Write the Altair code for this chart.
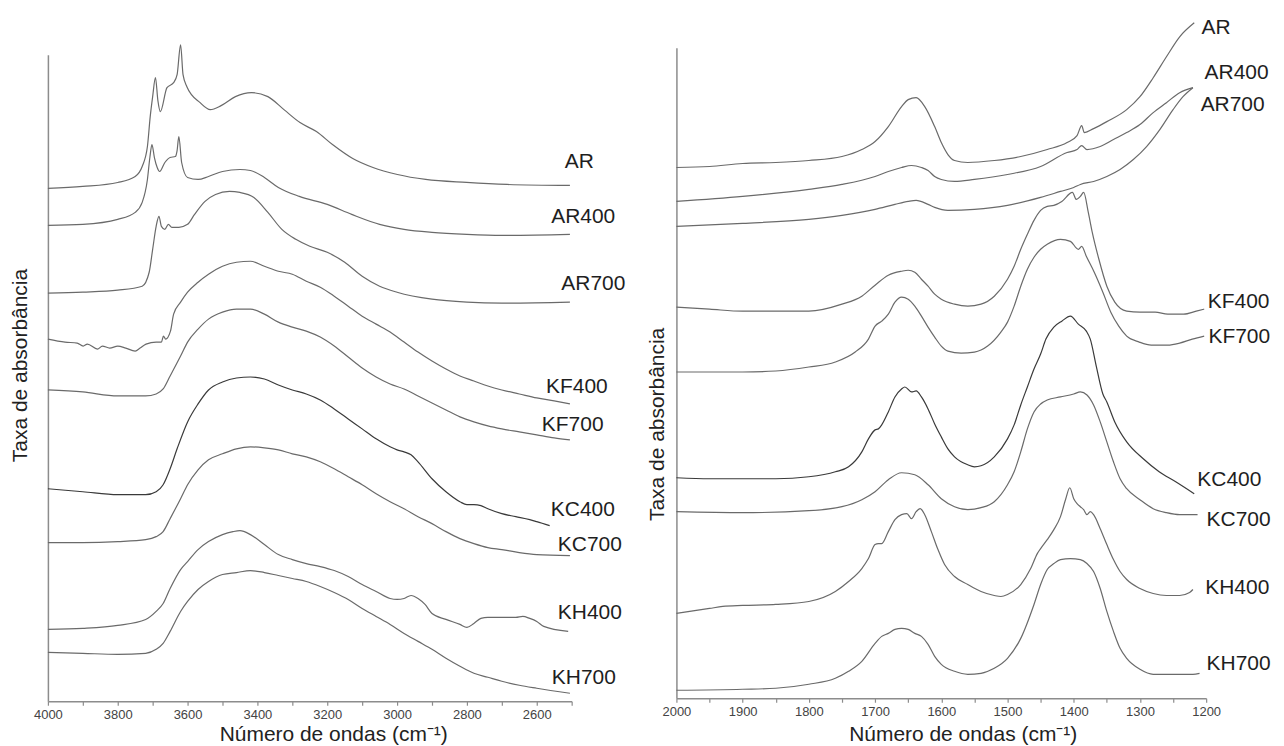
import altair as alt
import pandas as pd

SERIES = ["AR", "AR400", "AR700", "KF400", "KF700", "KC400", "KC700", "KH400", "KH700"]

# ---- left panel (4000-2500 cm-1): (wavenumber, offset absorbance) ----
L_AR = [(4000,514),(3900,516),(3800,520),(3750,526),(3730,536),(3715,556),(3707,586),(3700,606),(3692,625),(3685,602),(3678,591),(3659,615),(3640,620),(3630,628),(3620,658),(3613,628),(3602,616),(3564,600),(3535,593),(3504,597),(3463,606),(3417,610),(3370,606),(3324,593),(3278,580),(3231,571),(3185,558),(3127,544),(3069,535),(2999,528),(2918,523),(2801,520),(2685,518),(2505,517)]
L_AR400 = [(4000,477),(3900,478),(3800,483),(3750,490),(3730,500),(3715,523),(3708,545),(3702,558),(3695,545),(3687,535),(3680,531),(3665,540),(3650,545),(3635,546),(3630,552),(3625,566),(3617,540),(3600,525),(3570,523),(3540,526),(3500,531),(3450,533),(3420,532),(3380,525),(3340,515),(3280,506),(3200,498),(3130,488),(3050,478),(2980,473),(2900,470),(2800,468),(2700,467),(2505,468)]
L_AR700 = [(4000,409),(3900,410),(3800,412),(3730,416),(3710,430),(3700,453),(3690,476),(3682,486),(3675,476),(3665,473),(3655,478),(3645,475),(3625,475),(3600,478),(3580,488),(3550,501),(3520,508),(3480,511),(3450,510),(3410,505),(3370,490),(3330,473),(3290,463),(3250,456),(3200,450),(3150,440),(3100,426),(3050,416),(3000,410),(2900,403),(2800,400),(2700,399),(2505,400)]
L_KF400 = [(4000,363),(3951,360),(3916,359),(3899,356),(3887,358),(3858,353),(3844,356),(3823,354),(3800,356),(3777,354),(3750,351),(3736,354),(3719,358),(3690,360),(3675,360),(3669,366),(3663,363),(3649,371),(3640,388),(3620,400),(3600,410),(3570,420),(3540,428),(3500,436),(3460,440),(3420,441),(3380,436),(3340,431),(3300,428),(3260,421),(3220,415),(3180,406),(3140,396),(3100,386),(3060,378),(3020,370),(2980,360),(2940,350),(2900,341),(2860,333),(2820,326),(2780,321),(2740,316),(2700,312),(2650,308),(2600,304),(2550,301),(2505,298)]
L_KF700 = [(4000,312),(3900,310),(3800,306),(3720,306),(3690,308),(3670,313),(3650,326),(3620,346),(3600,360),(3570,373),(3540,383),(3500,390),(3460,393),(3420,393),(3380,388),(3340,380),(3300,375),(3260,371),(3220,365),(3180,356),(3140,345),(3100,334),(3060,325),(3020,318),(2980,313),(2940,306),(2900,299),(2860,292),(2820,285),(2780,280),(2740,276),(2700,273),(2650,270),(2600,267),(2550,264),(2505,262)]
L_KC400 = [(4000,213),(3900,210),(3800,207),(3720,207),(3690,210),(3670,217),(3650,233),(3630,253),(3600,280),(3570,298),(3540,312),(3500,320),(3460,324),(3420,325),(3380,323),(3340,317),(3300,312),(3260,308),(3220,302),(3180,293),(3140,283),(3100,273),(3060,263),(3020,255),(3000,252),(2980,250),(2960,247),(2940,240),(2900,223),(2860,210),(2820,200),(2800,197),(2780,197),(2760,196),(2740,193),(2700,188),(2660,185),(2620,182),(2600,180),(2563,176)]
L_KC700 = [(4000,159),(3900,159),(3800,160),(3720,162),(3690,165),(3670,170),(3650,183),(3620,203),(3600,217),(3570,232),(3540,242),(3500,248),(3460,253),(3420,255),(3380,254),(3340,252),(3300,248),(3260,245),(3220,240),(3180,233),(3140,225),(3100,217),(3060,208),(3020,200),(2980,193),(2940,185),(2900,178),(2860,170),(2820,163),(2780,158),(2740,154),(2700,152),(2650,149),(2600,147),(2505,146)]
L_KH400 = [(4000,72),(3900,73),(3800,76),(3720,82),(3690,90),(3670,98),(3650,113),(3620,132),(3600,140),(3570,152),(3540,160),(3500,167),(3470,170),(3450,171),(3420,167),(3380,157),(3340,147),(3300,142),(3260,138),(3220,135),(3180,131),(3140,125),(3100,117),(3060,110),(3020,103),(3000,102),(2980,103),(2960,106),(2940,103),(2920,97),(2900,88),(2860,82),(2820,77),(2800,74),(2780,78),(2760,83),(2740,84),(2700,84),(2660,84),(2640,85),(2620,83),(2600,80),(2580,75),(2510,70)]
L_KH700 = [(4000,49),(3900,48),(3800,47),(3720,48),(3690,52),(3670,58),(3650,70),(3620,90),(3600,100),(3570,112),(3540,120),(3500,127),(3460,129),(3420,131),(3380,129),(3340,126),(3300,123),(3260,120),(3220,115),(3180,109),(3140,102),(3100,93),(3060,85),(3020,77),(2980,68),(2940,60),(2900,52),(2860,43),(2820,35),(2780,28),(2740,24),(2700,20),(2650,16),(2600,13),(2505,8)]

# ---- right panel (2000-1200 cm-1) ----
R_AR = [(2000,535),(1950,536),(1900,539),(1850,540),(1800,542),(1750,546),(1720,553),(1700,561),(1680,576),(1660,596),(1650,603),(1638,605),(1625,596),(1610,576),(1600,560),(1590,548),(1580,542),(1560,540),(1520,542),(1480,546),(1440,553),(1410,560),(1395,567),(1388,577),(1384,570),(1370,574),(1350,581),(1320,593),(1300,606),(1280,625),(1260,646),(1240,666),(1218,680)]
R_AR400 = [(2000,501),(1900,506),(1800,513),(1750,518),(1700,526),(1680,531),(1660,535),(1645,537),(1630,535),(1620,532),(1610,526),(1600,523),(1580,521),(1550,523),(1500,528),(1450,536),(1410,550),(1395,553),(1388,557),(1380,553),(1360,556),(1340,563),(1320,570),(1300,578),(1280,590),(1260,600),(1240,610),(1220,615)]
R_AR700 = [(2000,476),(1900,479),(1800,483),(1750,487),(1700,493),(1670,498),(1650,501),(1638,502),(1620,498),(1610,495),(1590,492),(1550,493),(1500,497),(1450,505),(1420,511),(1400,515),(1390,518),(1370,521),(1350,526),(1330,533),(1310,543),(1290,556),(1270,573),(1250,593),(1235,606),(1220,615)]
R_KF400 = [(2000,395),(1950,393),(1900,391),(1850,391),(1800,391),(1750,398),(1720,406),(1700,417),(1680,427),(1660,431),(1650,432),(1640,430),(1630,423),(1620,416),(1610,408),(1600,403),(1580,398),(1560,396),(1540,398),(1520,406),(1500,423),(1490,436),(1480,453),(1470,468),(1460,482),(1450,492),(1440,496),(1430,497),(1418,501),(1402,510),(1396,503),(1390,506),(1385,510),(1378,490),(1372,470),(1362,443),(1350,416),(1338,400),(1320,391),(1300,390),(1277,390),(1258,388),(1234,388),(1215,391),(1203,393)]
R_KF700 = [(2000,330),(1950,330),(1900,330),(1850,331),(1800,335),(1760,340),(1730,350),(1710,363),(1700,376),(1690,381),(1680,388),(1670,400),(1660,405),(1650,403),(1640,396),(1630,386),(1620,375),(1610,365),(1600,356),(1590,351),(1570,349),(1550,350),(1530,356),(1510,370),(1500,380),(1490,396),(1480,416),(1470,433),(1460,445),(1450,453),(1440,458),(1420,463),(1405,461),(1393,453),(1388,456),(1381,446),(1369,430),(1356,410),(1344,390),(1332,376),(1320,366),(1301,360),(1283,357),(1258,357),(1240,359),(1221,363),(1203,366)]
R_KC400 = [(2000,224),(1950,223),(1900,223),(1850,223),(1800,225),(1760,230),(1740,235),(1720,250),(1710,263),(1700,272),(1695,273),(1690,277),(1680,290),(1670,305),(1660,313),(1655,315),(1645,310),(1638,311),(1630,305),(1620,293),(1610,278),(1600,265),(1590,253),(1580,245),(1560,237),(1550,235),(1540,236),(1520,245),(1500,263),(1490,277),(1480,297),(1470,315),(1460,333),(1450,348),(1442,363),(1430,375),(1418,381),(1405,386),(1393,378),(1381,371),(1375,363),(1366,336),(1356,308),(1350,300),(1338,280),(1320,260),(1295,243),(1271,230),(1246,220),(1218,208)]
R_KC700 = [(2000,190),(1900,189),(1800,191),(1750,195),(1720,202),(1700,210),(1680,222),(1660,229),(1640,227),(1620,217),(1600,203),(1580,195),(1560,192),(1540,194),(1520,200),(1500,217),(1490,230),(1480,250),(1470,273),(1460,290),(1450,298),(1440,302),(1420,305),(1400,308),(1390,310),(1380,307),(1370,297),(1360,280),(1350,260),(1340,240),(1330,223),(1320,213),(1300,202),(1280,193),(1260,189),(1240,187),(1220,187),(1213,187)]
R_KH400 = [(2000,88),(1950,93),(1930,95),(1900,96),(1850,97),(1800,100),(1760,110),(1740,120),(1720,133),(1710,143),(1700,157),(1695,158),(1690,158),(1680,170),(1670,182),(1660,187),(1652,188),(1645,183),(1638,190),(1632,193),(1625,187),(1615,170),(1605,152),(1595,137),(1580,125),(1560,117),(1540,110),(1520,106),(1510,105),(1500,107),(1480,117),(1465,133),(1455,148),(1450,153),(1440,162),(1430,172),(1420,185),(1412,203),(1406,214),(1400,203),(1395,198),(1390,195),(1385,192),(1380,187),(1375,190),(1370,187),(1360,173),(1350,157),(1340,142),(1330,130),(1320,122),(1300,113),(1280,108),(1260,106),(1240,106),(1225,109),(1220,112)]
R_KH700 = [(2000,11),(1900,12),(1850,13),(1800,17),(1760,23),(1740,30),(1720,40),(1700,58),(1690,65),(1680,68),(1670,72),(1660,73),(1650,72),(1640,68),(1630,65),(1620,57),(1610,45),(1600,37),(1580,30),(1560,27),(1540,28),(1520,33),(1500,43),(1480,63),(1460,97),(1450,117),(1440,132),(1430,138),(1420,142),(1405,143),(1390,142),(1380,138),(1370,130),(1360,113),(1350,90),(1340,70),(1330,53),(1320,43),(1300,32),(1280,27),(1260,27),(1240,27),(1220,27),(1210,28)]

# ---- series name annotations (data coordinates) ----
LEFT_LABEL_WN = [2478, 2467, 2438, 2485, 2497, 2468, 2448, 2448, 2465]
LEFT_LABEL_V = [540, 485, 418, 315, 277, 192, 157, 88, 23]
RIGHT_LABEL_WN = [1185, 1154, 1160, 1151, 1150, 1165, 1151, 1153, 1151]
RIGHT_LABEL_V = [675, 630, 598, 400, 365, 222, 182, 113, 37]

LEFT_TICKS = list(range(4000, 2499, -100))
RIGHT_TICKS = list(range(2000, 1199, -50))

FONT = "Liberation Sans"
LINE_COLORS = ["#6a6a6a", "#6a6a6a", "#6a6a6a", "#6a6a6a", "#6a6a6a", "#3a3a3a", "#6a6a6a", "#6a6a6a", "#6a6a6a"]


def curves(series_lists):
    rows = []
    for name, pts in zip(SERIES, series_lists):
        for wn, v in pts:
            rows.append({"series": name, "wn": wn, "v": v})
    return pd.DataFrame(rows)


left_df = curves([L_AR, L_AR400, L_AR700, L_KF400, L_KF700, L_KC400, L_KC700, L_KH400, L_KH700])
right_df = curves([R_AR, R_AR400, R_AR700, R_KF400, R_KF700, R_KC400, R_KC700, R_KH400, R_KH700])
left_lab = pd.DataFrame({"series": SERIES, "wn": LEFT_LABEL_WN, "v": LEFT_LABEL_V})
right_lab = pd.DataFrame({"series": SERIES, "wn": RIGHT_LABEL_WN, "v": RIGHT_LABEL_V})

color = alt.Color("series:N", scale=alt.Scale(domain=SERIES, range=LINE_COLORS), legend=None)
xtitle = "Número de ondas (cm⁻¹)"
ytitle = "Taxa de absorbância"


def panel(df, lab, xdom, ticks, step, ydom, yrange, xt_x, xt_y, yt_x, yt_y, width, height):
    x = alt.X("wn:Q",
              scale=alt.Scale(domain=xdom, reverse=True, nice=False, zero=False),
              axis=alt.Axis(values=ticks, format="d", labelFlush=False,
                            labelExpr=f"datum.value % {step} === 0 ? datum.label : ''",
                            title=xtitle, titleX=xt_x, titleY=xt_y,
                            titleAlign="center", titleBaseline="alphabetic"))
    yscale = alt.Scale(domain=ydom, nice=False, zero=False)
    if yrange is not None:
        yscale = alt.Scale(domain=ydom, range=yrange, nice=False, zero=False)
    y = alt.Y("v:Q", scale=yscale,
              axis=alt.Axis(labels=False, ticks=False, grid=False, title=ytitle,
                            titleAngle=270, titleX=yt_x, titleY=yt_y,
                            titleAlign="center", titleBaseline="middle"))
    lines = alt.Chart(df).mark_line(strokeWidth=1.2, interpolate="monotone").encode(
        x=x, y=y, color=color, detail="series:N",
        order=alt.Order("wn:Q", sort="descending"))
    labels = alt.Chart(lab).mark_text(font=FONT, fontSize=21, color="#1e1e1e",
                                      align="center", baseline="middle").encode(
        x=x, y=y, text="series:N")
    return alt.layer(lines, labels).properties(width=width, height=height)


left = panel(left_df, left_lab, [2500, 4000], LEFT_TICKS, 200, [0, 648], [655, 7],
             286, 39, -27, 318, 525, 655)
right = panel(right_df, right_lab, [1200, 2000], RIGHT_TICKS, 100, [3, 655], None,
              287, 42, -19, 377, 531, 652)

chart = alt.hconcat(left, right, spacing=105, bounds="flush").properties(
    padding={"left": 2, "top": 7, "right": 5, "bottom": 0}
).configure_view(stroke=None).configure_axis(
    domainColor="#8c8c8c", domainWidth=1.5, tickColor="#8c8c8c", tickSize=4, tickWidth=1.2,
    labelFont=FONT, labelFontSize=13, labelColor="#444444", labelPadding=3,
    titleFont=FONT, titleFontSize=21, titleFontWeight="normal", titleColor="#222222",
    grid=False
)

chart.save("out.html", embed_options={"renderer": "svg", "actions": False})
